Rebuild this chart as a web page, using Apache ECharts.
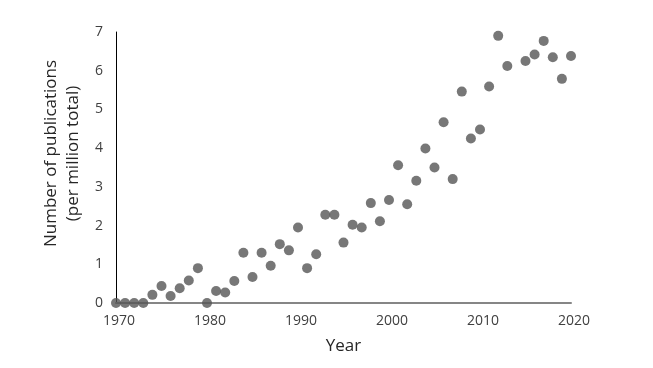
<!DOCTYPE html>
<html>
<head>
<meta charset="utf-8">
<script src="https://cdn.jsdelivr.net/npm/echarts@6/dist/echarts.min.js"></script>
<style>
  html, body { margin: 0; padding: 0; background: #fff; }
  #chart { width: 653px; height: 368px; }
</style>
</head>
<body>
<div id="chart"></div>
<script>
// years with a data point (no point for 2014)
const years = [1970, 1971, 1972, 1973, 1974, 1975, 1976, 1977, 1978, 1979,
  1980, 1981, 1982, 1983, 1984, 1985, 1986, 1987, 1988, 1989,
  1990, 1991, 1992, 1993, 1994, 1995, 1996, 1997, 1998, 1999,
  2000, 2001, 2002, 2003, 2004, 2005, 2006, 2007, 2008, 2009,
  2010, 2011, 2012, 2013, 2015, 2016, 2017, 2018, 2019, 2020];
// publications per million total
const pubs = [0, 0, 0, 0, 0.21, 0.44, 0.18, 0.38, 0.58, 0.9,
  0, 0.31, 0.27, 0.57, 1.3, 0.67, 1.3, 0.96, 1.52, 1.36,
  1.95, 0.9, 1.26, 2.28, 2.28, 1.56, 2.02, 1.95, 2.58, 2.11,
  2.66, 3.56, 2.55, 3.16, 3.99, 3.5, 4.67, 3.2, 5.46, 4.25,
  4.48, 5.59, 6.9, 6.12, 6.25, 6.42, 6.77, 6.35, 5.79, 6.38];

const font = 'Open Sans';
const chart = echarts.init(document.getElementById('chart'));

chart.setOption({
  animation: false,
  backgroundColor: '#fff',
  grid: { left: 116, right: 82, top: 32, bottom: 65 },
  xAxis: {
    type: 'value',
    min: 1970,
    max: 2020,
    interval: 10,
    name: 'Year',
    nameLocation: 'middle',
    nameGap: 35,
    nameTextStyle: { fontFamily: font, fontSize: 17, color: '#262626' },
    axisLine: { show: true, lineStyle: { color: '#868686', width: 2 } },
    axisTick: { show: false },
    splitLine: { show: false },
    axisLabel: {
      fontFamily: font, fontSize: 14, color: '#404040', margin: 11,
      padding: [0, 0, 0, 6],
      formatter: v => String(v)
    }
  },
  yAxis: {
    type: 'value',
    min: 0,
    max: 7,
    interval: 1,
    name: 'Number of publications\n(per million total)',
    nameLocation: 'middle',
    nameGap: 30,
    nameTextStyle: {
      fontFamily: font, fontSize: 17, color: '#262626', lineHeight: 22,
      padding: [0, 0, 0, 28]
    },
    axisLine: { show: true, lineStyle: { color: '#000', width: 1 } },
    axisTick: { show: false },
    splitLine: { show: false },
    axisLabel: { fontFamily: font, fontSize: 14, color: '#404040', margin: 13 }
  },
  series: [{
    type: 'scatter',
    symbolSize: 10,
    itemStyle: { color: '#555' },
    data: years.map((y, i) => [y, pubs[i]])
  }]
});
</script>
</body>
</html>
